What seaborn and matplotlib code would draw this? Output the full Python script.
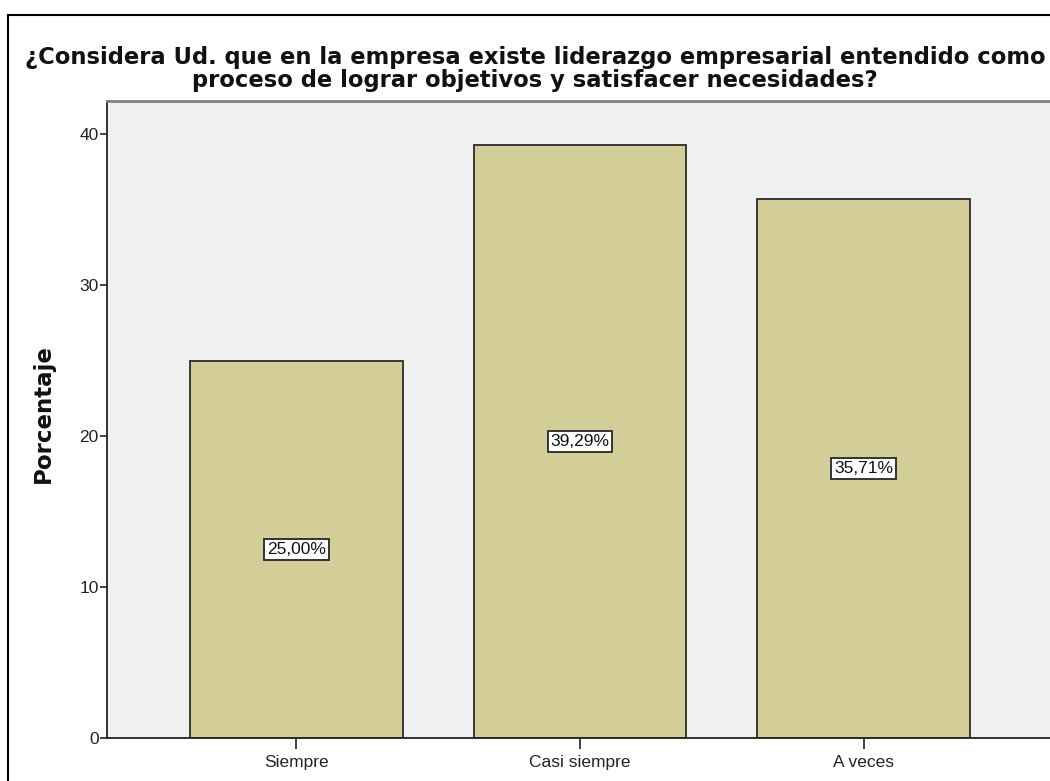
import matplotlib
matplotlib.use("Agg")
import matplotlib.pyplot as plt
import matplotlib.patches as mpatches
import seaborn as sns
import pandas as pd

categories = ["Siempre", "Casi siempre", "A veces"]
percentages = [25.00, 39.29, 35.71]
y_ticks = [0, 10, 20, 30, 40]

title = ("¿Considera Ud. que en la empresa existe liderazgo empresarial entendido como\n"
         "proceso de lograr objetivos y satisfacer necesidades?")

sns.set_theme(style="white")
plt.rcParams["font.family"] = ["Liberation Sans", "DejaVu Sans"]

df = pd.DataFrame({"categoria": categories, "porcentaje": percentages})

fig = plt.figure(figsize=(10.5, 7.81), dpi=100)
ax = fig.add_axes([107 / 1050, 43 / 781, 946 / 1050, 637 / 781])
ax.set_facecolor("#F0F0F0")

sns.barplot(data=df, x="categoria", y="porcentaje", color="#D3CE97",
            saturation=1, width=0.75, edgecolor="#2b2b2b", linewidth=1.3, ax=ax)

# value boxes in the middle of each bar
for i, v in enumerate(percentages):
    ax.text(i, v / 2, f"{v:.2f}".replace(".", ",") + "%", ha="center", va="center",
            fontsize=12.5, color="#111111",
            bbox=dict(boxstyle="square,pad=0.17", facecolor="white",
                      edgecolor="#333333", linewidth=1.4))

ax.set_xlim(-0.668, 2.668)
ax.set_ylim(0, 42.2)
ax.set_yticks(y_ticks)
ax.set_yticklabels([str(t) for t in y_ticks], fontsize=12.5, color="#222222")
ax.set_xticklabels(categories, fontsize=12.5, color="#222222")
ax.set_xlabel("")
ax.set_ylabel("Porcentaje", fontsize=16.5, fontweight="bold",
              family=["DejaVu Sans"], color="#111111")
ax.yaxis.set_label_coords(-0.055, 0.51)

ax.tick_params(axis="y", left=True, length=5, width=1.2, color="#222222", pad=1)
ax.tick_params(axis="x", bottom=True, length=8, width=1.2, color="#222222", pad=4)

for side in ["left", "bottom"]:
    ax.spines[side].set_visible(True)
    ax.spines[side].set_color("#222222")
    ax.spines[side].set_linewidth(1.3)
ax.spines["top"].set_visible(True)
ax.spines["top"].set_color("#808080")
ax.spines["top"].set_linewidth(2)
ax.spines["right"].set_visible(False)

fig.text(535 / 1050, 1 - 69 / 781, title, ha="center", va="center",
         fontsize=16.3, fontweight="bold", family=["DejaVu Sans"],
         color="#111111", linespacing=1.05)

# outer frame of the chart
frame = mpatches.Rectangle((8 / 1050, -0.05), 1.1, 1 - 15 / 781 + 0.05,
                           transform=fig.transFigure, fill=False,
                           edgecolor="black", linewidth=1.5, clip_on=False)
fig.patches.append(frame)

fig.savefig("out.png", dpi=100, facecolor="white")
